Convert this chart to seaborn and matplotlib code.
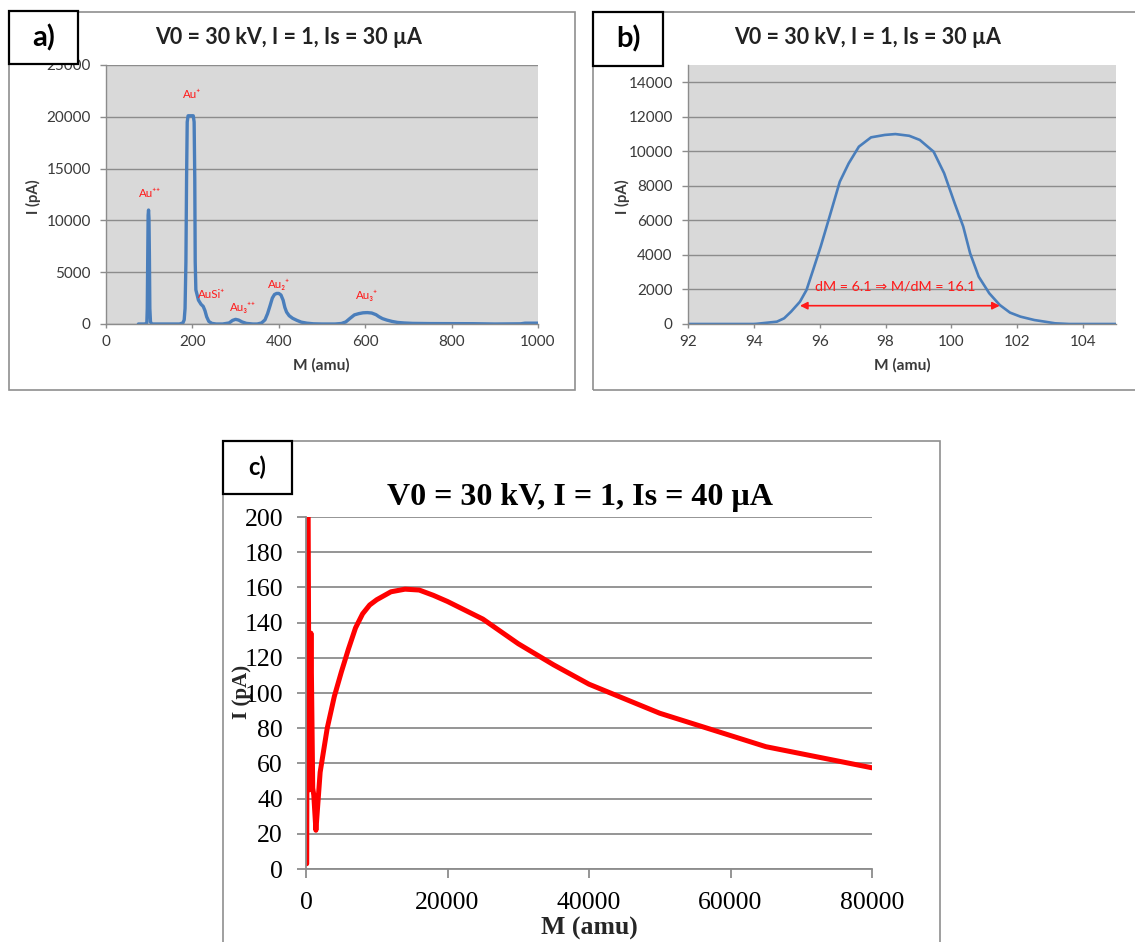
import matplotlib
matplotlib.use("Agg")
import matplotlib.pyplot as plt
from matplotlib.patches import Rectangle
import seaborn as sns

# ---------------- data ----------------
title_ab = "V0 = 30 kV, I = 1, Is = 30 µA"
title_c = "V0 = 30 kV, I = 1, Is = 40 µA"

# panel a: full mass spectrum
M_a = [75, 90, 94.5, 95.5, 96.5, 97.5, 98.5, 99.5, 100.5, 101.5, 103, 106,
       170, 178, 181, 183, 185, 186.5, 188, 190, 196, 202, 204, 205.5, 206.5, 208,
       214, 220, 225, 229, 233, 238, 245, 255,
       270, 285, 293, 300, 307, 315, 325, 340,
       350, 360, 368, 374, 380, 385, 390, 395, 400, 405, 410, 414, 418, 424, 432,
       442, 452, 465, 480, 500,
       530, 545, 555, 565, 575, 585, 595, 605, 615, 625, 632, 640, 650, 662, 675,
       690, 710, 750, 850, 900, 960, 970, 1000]
I_a = [0, 0, 100, 1500, 6000, 10500, 11000, 10200, 6500, 1500, 200, 0,
       0, 100, 400, 1500, 6000, 14000, 19500, 20100, 20100, 20100, 19500, 14000, 6000, 3300,
       2300, 1900, 1700, 1300, 700, 250, 60, 0,
       0, 100, 350, 450, 380, 200, 60, 0,
       0, 100, 400, 1000, 1800, 2500, 2850, 2950, 2950, 2800, 2300, 1600, 1150, 800, 550,
       350, 180, 80, 20, 0,
       0, 50, 200, 550, 880, 1000, 1080, 1100, 1060, 900, 700, 520, 380, 250, 150,
       100, 60, 40, 30, 0, 20, 80, 80]
peak_labels = ["Au⁺⁺", "Au⁺", "AuSi⁺", "Au₃⁺⁺", "Au₂⁺", "Au₃⁺"]
peak_label_M = [102, 199, 245, 317, 400, 604]
peak_label_I = [12640, 22200, 2800, 1640, 3860, 2800]

# panel b: Au++ peak detail
M_b = [92, 93, 94, 94.08, 94.7, 94.92, 95.13, 95.4, 95.6, 95.8, 96.03, 96.3, 96.61,
       96.88, 97.19, 97.56, 97.98, 98.3, 98.72, 99.04, 99.46, 99.78, 100.1, 100.36,
       100.57, 100.83, 101.15, 101.47, 101.78, 102.1, 102.52, 102.84, 103.15, 103.58,
       104, 105]
I_b = [0, 0, 0, 10, 135, 330, 714, 1290, 1970, 3130, 4480, 6220, 8240,
       9300, 10270, 10810, 10950, 11000, 10900, 10660, 9980, 8730, 6990, 5640,
       4090, 2740, 1780, 1100, 660, 425, 230, 135, 40, 0,
       0, 0]
fwhm_left, fwhm_right, fwhm_level = 95.4, 101.47, 1060
fwhm_text = "dM = 6.1 ⇒ M/dM = 16.1"
fwhm_text_M, fwhm_text_I = 98.3, 2150

# panel c: high-mass spectrum
M_c = [100, 250, 450, 700, 950, 1100, 1400, 2000, 3000, 4000, 5000, 6000, 7000,
       8000, 9000, 10000, 12000, 14000, 16000, 18000, 20000, 25000, 30000, 35000,
       40000, 50000, 65000, 80000]
I_c = [3, 260, 45, 134, 46, 42, 22, 55, 80, 98, 112, 125, 137,
       145, 150, 153, 157.5, 159, 158.5, 155.5, 152, 142, 128, 116,
       105, 88.5, 69.5, 57.5]

# ---------------- style ----------------
sns.set_style("white")
plt.rcParams["font.family"] = ["Lato", "DejaVu Sans"]
SERIF = ["Liberation Serif", "DejaVu Serif"]

W, H = 1135, 942
fig = plt.figure(figsize=(W / 100, H / 100), dpi=100)


def rect(x0, y0, x1, y1):
    return [x0 / W, 1 - y1 / H, (x1 - x0) / W, (y1 - y0) / H]


def fig_box(x0, y0, x1, y1, **kw):
    r = Rectangle((x0 / W, 1 - y1 / H), (x1 - x0) / W, (y1 - y0) / H,
                  transform=fig.transFigure, **kw)
    fig.add_artist(r)


GRID = "#8c8c8c"
TXT = "#3a3a3a"
BLUE = "#4a7ebb"


def excel_axes(ax, xlim, ylim, xticks, yticks):
    ax.set_facecolor("#d9d9d9")
    ax.set_xlim(*xlim)
    ax.set_ylim(*ylim)
    ax.set_xticks(xticks)
    ax.set_yticks(yticks)
    ax.grid(axis="y", color=GRID, lw=1.0)
    ax.grid(axis="x", visible=False)
    ax.set_axisbelow(True)
    for s in ["top", "right"]:
        ax.spines[s].set_visible(False)
    for s in ["left", "bottom"]:
        ax.spines[s].set_color(GRID)
        ax.spines[s].set_linewidth(1.0)
    ax.tick_params(axis="y", direction="out", length=4.5, width=1, color=GRID,
                   labelsize=11, labelcolor=TXT, pad=6.5, left=True)
    ax.tick_params(axis="x", direction="out", length=3, width=1, color=GRID,
                   labelsize=11, labelcolor=TXT, pad=5, bottom=True)


# ---------- panel a ----------
axA = fig.add_axes(rect(106, 65, 538, 324))
sns.lineplot(x=M_a, y=I_a, ax=axA, color=BLUE, lw=2.4, sort=False, estimator=None)
excel_axes(axA, (0, 1000), (0, 25000), range(0, 1001, 200), range(0, 25001, 5000))
axA.set_xlabel("M (amu)", fontsize=11.2, fontweight="bold", color=TXT)
axA.set_ylabel("I (pA)", fontsize=10.6, fontweight="bold", color=TXT)
axA.xaxis.set_label_coords(0.498, -0.158)
axA.xaxis.label.set_va("center")
axA.yaxis.set_label_coords(-0.169, 0.49)
axA.yaxis.label.set_va("center")
for lab, xm, yi in zip(peak_labels, peak_label_M, peak_label_I):
    axA.text(xm, yi, lab, color="#ff1a1a", fontsize=8.3, ha="center", va="center",
             family=["Lato", "DejaVu Sans"])

# ---------- panel b ----------
axB = fig.add_axes(rect(688, 65, 1116, 324))
sns.lineplot(x=M_b, y=I_b, ax=axB, color=BLUE, lw=1.9, sort=False, estimator=None)
excel_axes(axB, (92, 105), (0, 15000), range(92, 105, 2), range(0, 14001, 2000))
axB.set_xlabel("M (amu)", fontsize=11.2, fontweight="bold", color=TXT)
axB.set_ylabel("I (pA)", fontsize=10.6, fontweight="bold", color=TXT)
axB.xaxis.set_label_coords(0.5, -0.158)
axB.xaxis.label.set_va("center")
axB.yaxis.set_label_coords(-0.152, 0.49)
axB.yaxis.label.set_va("center")
axB.annotate("", xy=(fwhm_left, fwhm_level), xytext=(fwhm_right, fwhm_level),
             arrowprops=dict(arrowstyle="<|-|>", color="#ff1a1a", lw=1.2,
                             mutation_scale=11, shrinkA=0, shrinkB=0))
axB.text(fwhm_text_M, fwhm_text_I, fwhm_text, color="#ff1a1a", fontsize=10.3,
         ha="center", va="center", family=["Lato", "DejaVu Sans"])

# ---------- panel c ----------
axC = fig.add_axes(rect(306, 517, 872, 869))
sns.lineplot(x=M_c, y=I_c, ax=axC, color="#ff0000", lw=3.6, sort=False, estimator=None)
axC.set_facecolor("white")
axC.set_xlim(0, 80000)
axC.set_ylim(0, 200)
axC.set_xticks(range(0, 80001, 20000))
axC.set_yticks(range(0, 201, 20))
axC.grid(axis="y", color=GRID, lw=1.3)
axC.grid(axis="x", visible=False)
axC.set_axisbelow(True)
for s in ["top", "right"]:
    axC.spines[s].set_visible(False)
for s in ["left", "bottom"]:
    axC.spines[s].set_color(GRID)
    axC.spines[s].set_linewidth(1.3)
axC.tick_params(axis="both", direction="out", length=6.5, width=1.3, color=GRID,
                labelsize=18.5, labelcolor="black", left=True, bottom=True)
axC.tick_params(axis="y", pad=10)
axC.tick_params(axis="x", pad=10)
for t in axC.get_xticklabels() + axC.get_yticklabels():
    t.set_family(SERIF)
axC.set_xlabel("M (amu)", fontsize=18.5, fontweight="bold", family=SERIF)
axC.set_ylabel("I (pA)", fontsize=15, fontweight="bold", family=SERIF)
axC.xaxis.set_label_coords(0.5, -0.168)
axC.xaxis.label.set_va("center")
axC.yaxis.set_label_coords(-0.113, 0.503)
axC.yaxis.label.set_va("center")

# ---------- frames, titles, panel labels ----------
FRAME = "#8f8f8f"
fig_box(8.7, 12, 575, 390, fill=False, edgecolor=FRAME, lw=1.2, zorder=5)
fig_box(593, 12, 1145, 390, fill=False, edgecolor=FRAME, lw=1.2, zorder=5)
fig_box(223, 441, 940, 960, fill=False, edgecolor=FRAME, lw=1.2, zorder=5)

fig.text(289 / W, 1 - 37.5 / H, title_ab, ha="center", va="center",
         fontsize=15.5, fontweight="bold", color="#222222")
fig.text(868 / W, 1 - 37.5 / H, title_ab, ha="center", va="center",
         fontsize=15.5, fontweight="bold", color="#222222")
fig.text(580 / W, 1 - 497 / H, title_c, ha="center", va="center",
         fontsize=23, fontweight="bold", family=SERIF, color="black")

for (x0, y0, x1, y1, lab, fs) in [(9, 11, 78, 64, "a)", 21),
                                  (593, 12, 663, 66, "b)", 21),
                                  (223, 441, 292, 494, "c)", 17)]:
    fig_box(x0, y0, x1, y1, facecolor="white", edgecolor="black", lw=1.6, zorder=10)
    fig.text((x0 + x1) / 2 / W, 1 - ((y0 + y1) / 2) / H, lab, ha="center",
             va="center", fontsize=fs, fontweight="bold", color="black", zorder=11)

fig.savefig("out.png", dpi=100)
